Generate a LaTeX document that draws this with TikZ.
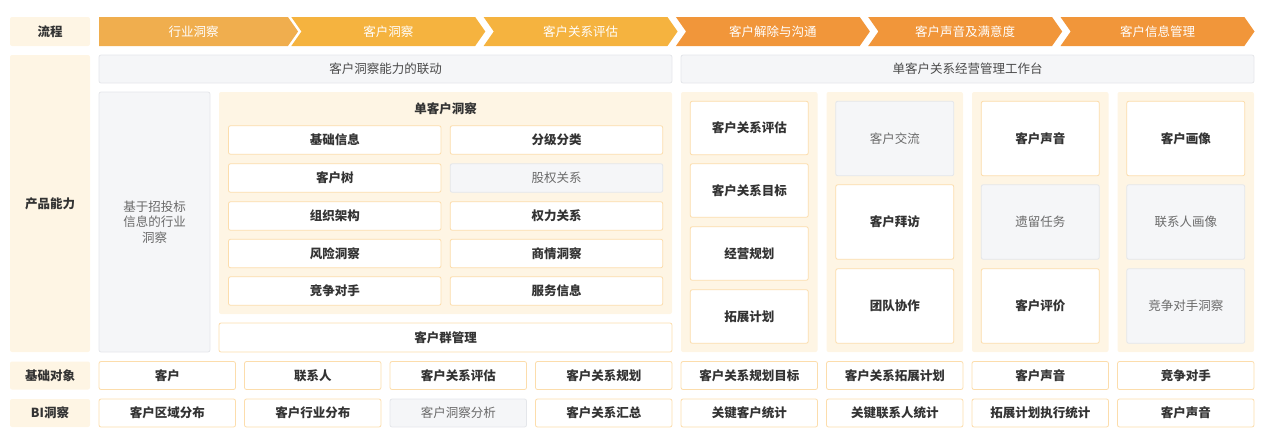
\documentclass[tikz,border=0pt]{standalone}
\usepackage{fontspec}
\setmainfont{Noto Sans CJK SC}
\usetikzlibrary{shapes.symbols}
\definecolor{cream}{HTML}{FEF5E4}
\definecolor{flowa}{HTML}{F0AE4E}
\definecolor{flowb}{HTML}{F5B33F}
\definecolor{flowc}{HTML}{F1963A}
\definecolor{grey}{HTML}{F5F6F8}
\definecolor{greyline}{HTML}{E4E6EA}
\definecolor{orline}{HTML}{FCDDAC}
\definecolor{ink}{HTML}{333333}
\definecolor{ink2}{HTML}{6A6A6A}
\definecolor{barink}{HTML}{4A4A4A}

\begin{document}
\fontsize{12.5}{15.5}\selectfont
\begin{tikzpicture}[
		x=1pt, y=-1pt,
		every node/.style={outer sep=0pt, inner sep=2pt},
		lbl/.style={fill=cream, text=ink, font=\bfseries, minimum width=80pt, rounded corners=2pt},
		flow/.style={shape=signal, signal to=east, signal from=west, signal pointer angle=110, minimum width=194pt, minimum height=29pt, text=white, inner sep=0pt},
		gbar/.style={fill=grey, draw=greyline, line width=.8pt, rounded corners=2pt, minimum width=573pt, minimum height=28pt, text=barink},
		pane/.style={fill=cream, rounded corners=2pt},
		cell/.style={fill=white, draw=orline, line width=.8pt, rounded corners=2pt, font=\bfseries, text=ink},
		gcell/.style={fill=grey, draw=greyline, line width=.8pt, rounded corners=2pt, text=ink2},
		gridsz/.style={minimum width=212.5pt, minimum height=28.5pt},
		tilesz/.style={minimum width=136.5pt, minimum height=28pt},
		midsz/.style={minimum width=118pt, minimum height=53.5pt},
		tallsz/.style={minimum width=118pt, minimum height=74.5pt},
		]
		\useasboundingbox (0,0) rectangle (1268,445);
		
		\node[lbl, minimum height=29pt] (lc) at (50,31.5) {流程};
		\node[lbl, minimum height=297pt] (lp) at (50,203.5) {产品能力};
		\node[lbl, minimum height=28pt] (lj) at (50,375.5) {基础对象};
		\node[lbl, minimum height=28pt] (lb) at (50,413) {BI洞察};
		
		\node[flow, signal from=nowhere, minimum width=199pt, fill=flowa] (a1) at (193.5,31.5) {行业洞察};
		\node[flow, fill=flowb] (a2) at (388.3,31.5) {客户洞察};
		\node[flow, fill=flowb] (a3) at (580.6,31.5) {客户关系评估};
		\node[flow, fill=flowc] (a4) at (772.9,31.5) {客户解除与沟通};
		\node[flow, fill=flowc] (a5) at (965.2,31.5) {客户声音及满意度};
		\node[flow, fill=flowc] (a6) at (1157.5,31.5) {客户信息管理};
		
		\node[gbar] (g1) at (385.5,69) {客户洞察能力的联动};
		\node[gbar] (g2) at (967.5,69) {单客户关系经营管理工作台};
		
		\begin{scope}
			\node[gcell, minimum width=111pt, minimum height=260pt, align=center] (hy) at (154.5,222) {基于招投标\\信息的行业\\洞察};
			\node[pane, minimum width=453pt, minimum height=222pt] (dk) at (445.5,203) {};
			\node[font=\bfseries, text=ink] (dkt) at (445.5,109) {单客户洞察};
			
			\node[cell, gridsz] (d11) at (334.75,140) {基础信息};
			\node[cell, gridsz] (d12) at (556.5,140) {分级分类};
			\node[cell, gridsz] (d21) at (334.75,178) {客户树};
			\node[gcell, gridsz] (d22) at (556.5,178) {股权关系};
			\node[cell, gridsz] (d31) at (334.75,216) {组织架构};
			\node[cell, gridsz] (d32) at (556.5,216) {权力关系};
			\node[cell, gridsz] (d41) at (334.75,253.5) {风险洞察};
			\node[cell, gridsz] (d42) at (556.5,253.5) {商情洞察};
			\node[cell, gridsz] (d51) at (334.75,291) {竞争对手};
			\node[cell, gridsz] (d52) at (556.5,291) {服务信息};
			
			\node[cell, minimum width=453pt, minimum height=29pt] (kq) at (445.5,337.5) {客户群管理};
		\end{scope}
		
		\begin{scope}[xshift=749.25pt]
			\node[pane, minimum width=136.5pt, minimum height=260pt] (c1) at (0,222) {};
			\node[cell, midsz] (c11) at (0,128) {客户关系评估};
			\node[cell, midsz] (c12) at (0,190.5) {客户关系目标};
			\node[cell, midsz] (c13) at (0,253.5) {经营规划};
			\node[cell, midsz] (c14) at (0,316.5) {拓展计划};
		\end{scope}
		
		\begin{scope}[xshift=894.75pt]
			\node[pane, minimum width=136.5pt, minimum height=260pt] (c2) at (0,222) {};
			\node[gcell, tallsz] (c21) at (0,138.5) {客户交流};
			\node[cell, tallsz] (c22) at (0,222) {客户拜访};
			\node[cell, tallsz] (c23) at (0,306) {团队协作};
		\end{scope}
		
		\begin{scope}[xshift=1040.25pt]
			\node[pane, minimum width=136.5pt, minimum height=260pt] (c3) at (0,222) {};
			\node[cell, tallsz] (c31) at (0,138.5) {客户声音};
			\node[gcell, tallsz] (c32) at (0,222) {遗留任务};
			\node[cell, tallsz] (c33) at (0,306) {客户评价};
		\end{scope}
		
		\begin{scope}[xshift=1185.75pt]
			\node[pane, minimum width=136.5pt, minimum height=260pt] (c4) at (0,222) {};
			\node[cell, tallsz] (c41) at (0,138.5) {客户画像};
			\node[gcell, tallsz] (c42) at (0,222) {联系人画像};
			\node[gcell, tallsz] (c43) at (0,306) {竞争对手洞察};
		\end{scope}
		
		\node[cell, tilesz] (j1) at (167.25,375.5) {客户};
		\node[cell, tilesz] (j2) at (312.75,375.5) {联系人};
		\node[cell, tilesz] (j3) at (458.25,375.5) {客户关系评估};
		\node[cell, tilesz] (j4) at (603.75,375.5) {客户关系规划};
		\node[cell, tilesz] (j5) at (749.25,375.5) {客户关系规划目标};
		\node[cell, tilesz] (j6) at (894.75,375.5) {客户关系拓展计划};
		\node[cell, tilesz] (j7) at (1040.25,375.5) {客户声音};
		\node[cell, tilesz] (j8) at (1185.75,375.5) {竞争对手};
		
		\node[cell, tilesz] (b1) at (167.25,413) {客户区域分布};
		\node[cell, tilesz] (b2) at (312.75,413) {客户行业分布};
		\node[gcell, tilesz] (b3) at (458.25,413) {客户洞察分析};
		\node[cell, tilesz] (b4) at (603.75,413) {客户关系汇总};
		\node[cell, tilesz] (b5) at (749.25,413) {关键客户统计};
		\node[cell, tilesz] (b6) at (894.75,413) {关键联系人统计};
		\node[cell, tilesz] (b7) at (1040.25,413) {拓展计划执行统计};
		\node[cell, tilesz] (b8) at (1185.75,413) {客户声音};
	\end{tikzpicture}
\end{document}
